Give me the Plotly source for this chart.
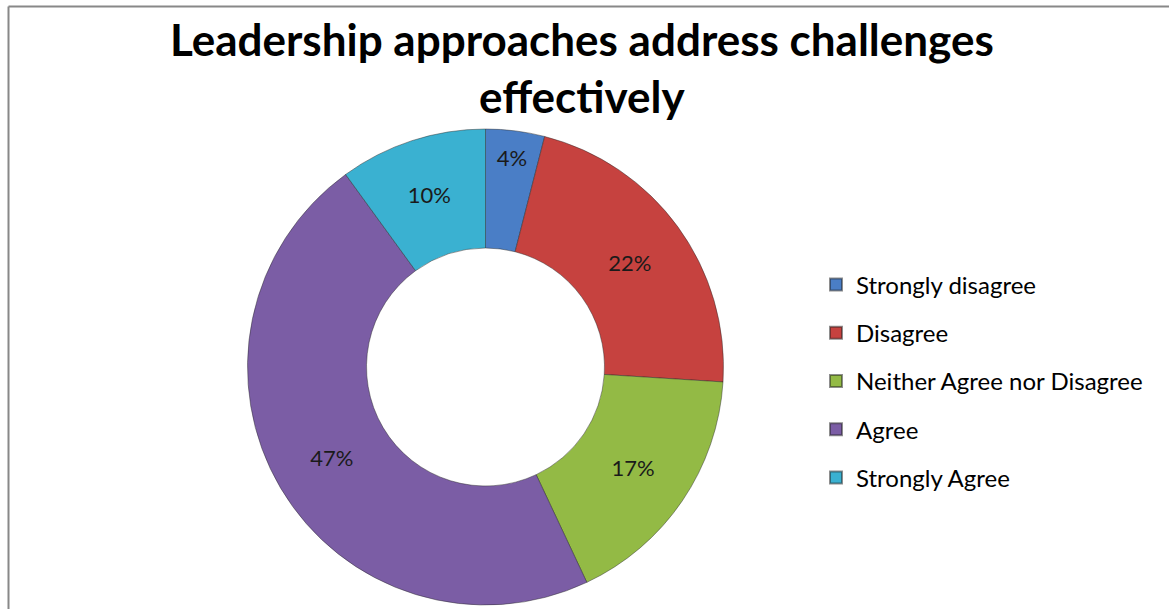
import plotly.graph_objects as go

categories = ["Strongly disagree", "Disagree", "Neither Agree nor Disagree", "Agree", "Strongly Agree"]
values = [4, 22, 17, 47, 10]
colors = ["#4A7EC6", "#C6423F", "#93BA45", "#7B5DA5", "#3AB1D1"]
title_text = "Leadership approaches address challenges<br>effectively"

W, H = 1169, 609
cx, cy, R = 485.5, 367, 238

fig = go.Figure()
fig.add_trace(go.Pie(
    labels=categories,
    values=values,
    hole=0.5,
    sort=False,
    direction="clockwise",
    rotation=0,
    showlegend=False,
    marker=dict(colors=colors, line=dict(color="rgba(40,40,40,0.45)", width=1)),
    texttemplate="%{percent:.0%}",
    textposition="inside",
    insidetextorientation="horizontal",
    textfont=dict(family="Lato", size=22, color="#1a1a1a"),
    domain=dict(x=[(cx - R) / W, (cx + R) / W], y=[(H - cy - R) / H, (H - cy + R) / H]),
    hoverinfo="label+percent",
))

# legend entries (one per category) so that spacing can match the reference
for name, col in zip(categories, colors):
    fig.add_trace(go.Scatter(
        x=[None], y=[None], mode="markers", name=name, legendgroup=name,
        marker=dict(symbol="square", size=15, color=col,
                    line=dict(color="rgba(30,30,30,0.5)", width=1)),
        showlegend=True,
    ))

fig.update_layout(
    width=W, height=H,
    margin=dict(l=0, r=0, t=0, b=0),
    paper_bgcolor="white",
    plot_bgcolor="white",
    xaxis=dict(visible=False),
    yaxis=dict(visible=False),
    annotations=[dict(text=title_text, xref="paper", yref="paper",
                      x=582 / W, xanchor="center", y=1 - 11 / H, yanchor="top",
                      showarrow=False, align="center",
                      font=dict(family="Lato", size=44, color="black", weight="bold"))],
    legend=dict(x=816 / W, xanchor="left", y=1 - 381 / H, yanchor="middle",
                traceorder="grouped", tracegroupgap=14, itemsizing="constant",
                font=dict(family="Lato", size=24, color="black"),
                bgcolor="rgba(0,0,0,0)"),
    shapes=[
        dict(type="line", xref="paper", yref="paper", x0=8.5 / W, x1=8.5 / W, y0=0, y1=1 - 6.5 / H,
             line=dict(color="#888888", width=2)),
        dict(type="line", xref="paper", yref="paper", x0=8.5 / W, x1=1, y0=1 - 6.5 / H, y1=1 - 6.5 / H,
             line=dict(color="#888888", width=2)),
    ],
)

fig.write_html("out.html")
